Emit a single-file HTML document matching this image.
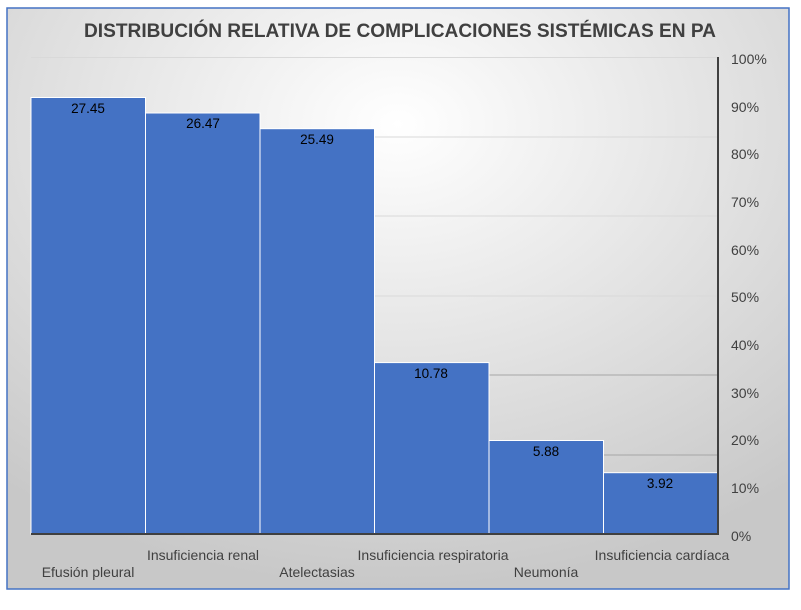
<!DOCTYPE html>
<html><head><meta charset="utf-8"><style>
body{margin:0;background:#fff;width:801px;height:605px;overflow:hidden}
</style></head><body>
<svg width="801" height="605" xmlns="http://www.w3.org/2000/svg" font-family="Liberation Sans, sans-serif">
<defs><radialGradient id="g" cx="50%" cy="20%" r="80%"><stop offset="0" stop-color="#ffffff"/><stop offset="1" stop-color="#c8c8c8"/></radialGradient></defs>
<rect x="7" y="8" width="782" height="581" fill="url(#g)" stroke="#4472C4" stroke-width="1.5"/>
<text x="400" y="37" text-anchor="middle" font-size="19" font-weight="bold" fill="#404040" textLength="632" lengthAdjust="spacingAndGlyphs">DISTRIBUCIÓN RELATIVA DE COMPLICACIONES SISTÉMICAS EN PA</text>
<g stroke="#d9d9d9" stroke-width="1">
<line x1="31" x2="718" y1="57.5" y2="57.5"/><line x1="31" x2="718" y1="137" y2="137"/><line x1="31" x2="718" y1="216" y2="216"/><line x1="31" x2="718" y1="296" y2="296"/><line x1="31" x2="718" y1="375" y2="375" stroke="#a6a6a6"/><line x1="31" x2="718" y1="455" y2="455" stroke="#a6a6a6"/>
</g>
<g fill="#4472C4" stroke="#ffffff" stroke-width="1">
<rect x="31" y="97.5" width="114.5" height="436.5"/>
<rect x="145.5" y="113" width="114.5" height="421"/>
<rect x="260" y="128.7" width="114.5" height="405.3"/>
<rect x="374.5" y="362.6" width="114.5" height="171.4"/>
<rect x="489" y="440.5" width="114.5" height="93.5"/>
<rect x="603.5" y="472.7" width="114.5" height="61.3"/>
</g>
<g font-size="13.5" fill="#000" text-anchor="middle">
<text x="88" y="113">27.45</text><text x="203" y="128">26.47</text><text x="317" y="144">25.49</text><text x="431" y="378">10.78</text><text x="546" y="456">5.88</text><text x="660" y="488">3.92</text>
</g>
<line x1="31" x2="719" y1="534" y2="534" stroke="#404040" stroke-width="2"/>
<line x1="718" x2="718" y1="57" y2="535" stroke="#404040" stroke-width="2"/>
<g font-size="14" fill="#404040">
<text x="731" y="64">100%</text><text x="731" y="112">90%</text><text x="731" y="159">80%</text><text x="731" y="207">70%</text><text x="731" y="255">60%</text><text x="731" y="302">50%</text><text x="731" y="350">40%</text><text x="731" y="398">30%</text><text x="731" y="445">20%</text><text x="731" y="493">10%</text><text x="731" y="541">0%</text>
</g>
<g font-size="14" fill="#404040" text-anchor="middle">
<text x="88" y="577">Efusión pleural</text><text x="203" y="560">Insuficiencia renal</text><text x="317" y="577">Atelectasias</text><text x="433" y="560">Insuficiencia respiratoria</text><text x="546" y="577">Neumonía</text><text x="662" y="560">Insuficiencia cardíaca</text>
</g>
</svg>
</body></html>
